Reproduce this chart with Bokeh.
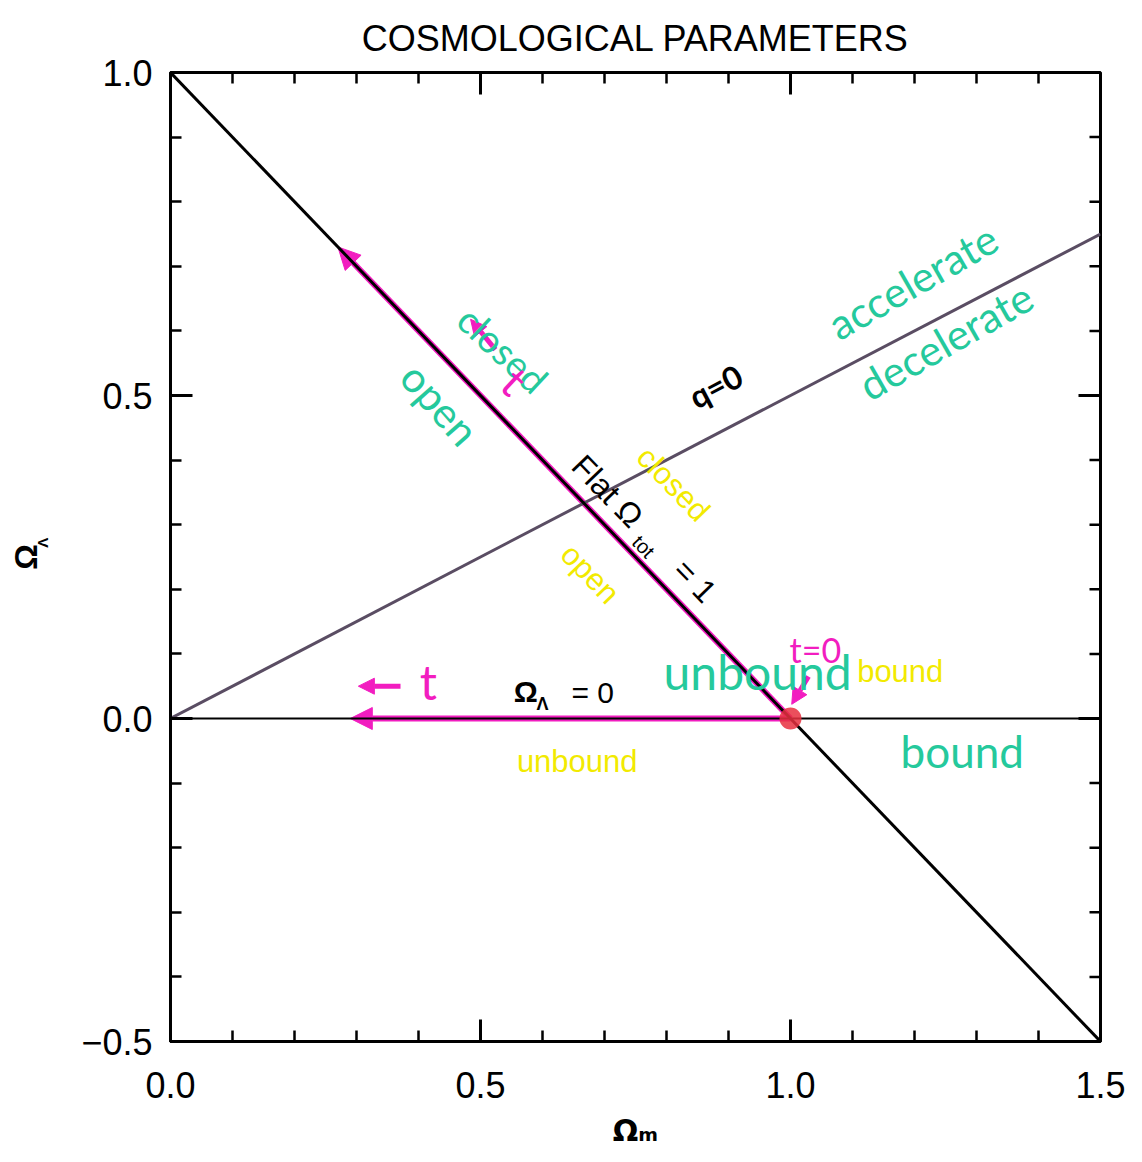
from bokeh.plotting import figure
from bokeh.layouts import row
from bokeh.models import (Range1d, FixedTicker, Label, Arrow,
                          NormalHead, ColumnDataSource)
from bokeh.embed import file_html
from bokeh.resources import INLINE

# ---------------- data ----------------
flat_x = [0.0, 1.5]          # Omega_tot = 1  (Omega_L = 1 - Omega_m)
flat_y = [1.0, -0.5]
q0_x = [0.0, 1.5]            # q = 0  (Omega_L = Omega_m / 2)
q0_y = [0.0, 0.75]
lam0_x = [0.0, 1.5]          # Omega_L = 0
lam0_y = [0.0, 0.0]

# evolution paths (from t=0 point backwards)
path_start_x = [1.0, 1.0]
path_start_y = [0.0, 0.0]
path_end_x = [0.27, 0.29]
path_end_y = [0.73, 0.0]

bigbang_x = [1.0]
bigbang_y = [0.0]

x_major = [0.0, 0.5, 1.0, 1.5]
x_labels = ["0.0", "0.5", "1.0", "1.5"]
x_minor = [0.0, 0.1, 0.2, 0.3, 0.4, 0.5, 0.6, 0.7, 0.8, 0.9, 1.0, 1.1, 1.2, 1.3, 1.4, 1.5]
y_major = [-0.5, 0.0, 0.5, 1.0]
y_labels = ["\u22120.5", "0.0", "0.5", "1.0"]
y_minor = [-0.5, -0.4, -0.3, -0.2, -0.1, 0.0, 0.1, 0.2, 0.3, 0.4, 0.5, 0.6, 0.7, 0.8, 0.9, 1.0]

X_MIN, X_MAX = 0.0, 1.5
Y_MIN, Y_MAX = -0.5, 1.0

MAGENTA = "#f21dc0"
GREEN = "#25c99c"
YELLOW = "#f2ea00"
SANS = "Liberation Sans"
HAND = "Lato"

W, H = 1142, 1162
SIDE_W = 52   # strip holding the vertical axis title

p = figure(width=W - SIDE_W, height=H, x_range=Range1d(X_MIN, X_MAX), y_range=Range1d(Y_MIN, Y_MAX),
           output_backend="svg", toolbar_location=None,
           min_border_left=170 - SIDE_W, min_border_right=42, min_border_top=72, min_border_bottom=121)
p.xgrid.visible = False
p.ygrid.visible = False
p.outline_line_color = "black"
p.outline_line_width = 3
p.background_fill_color = "white"
p.border_fill_color = "white"

p.title.text = "COSMOLOGICAL PARAMETERS"
p.title.align = "center"
p.title.text_font = SANS
p.title.text_font_size = "36px"
p.title.text_font_style = "normal"
p.title.text_color = "black"
p.title.standoff = 28


def style_axis(ax, major, minor, labels):
    ax.ticker = FixedTicker(ticks=major, minor_ticks=minor)
    ax.major_tick_in = 22
    ax.major_tick_out = 0
    ax.minor_tick_in = 11
    ax.minor_tick_out = 0
    ax.major_tick_line_width = 3
    ax.minor_tick_line_width = 2.5
    ax.axis_line_width = 3
    ax.axis_line_color = "black"
    ax.major_tick_line_color = "black"
    ax.minor_tick_line_color = "black"
    ax.major_label_overrides = dict(zip(major, labels))
    ax.major_label_text_font = SANS
    ax.major_label_text_font_size = "36px"
    ax.major_label_text_color = "black"


style_axis(p.xaxis[0], x_major, x_minor, x_labels)
p.xaxis[0].major_label_standoff = 30
p.xaxis[0].axis_label = "\u03a9\u2098"
p.xaxis[0].axis_label_text_font = "DejaVu Sans"
p.xaxis[0].axis_label_text_font_size = "30px"
p.xaxis[0].axis_label_text_font_style = "bold"
p.xaxis[0].axis_label_text_color = "black"
p.xaxis[0].axis_label_standoff = 12

style_axis(p.yaxis[0], y_major, y_minor, y_labels)
p.yaxis[0].major_label_standoff = 18

# mirrored ticks on top and right edges (half of each dash is clipped by the frame)
p.scatter(x_major, [Y_MAX] * len(x_major), marker="dash", angle=1.5708, size=44, line_width=3, line_color="black")
p.scatter(x_minor, [Y_MAX] * len(x_minor), marker="dash", angle=1.5708, size=22, line_width=2.5, line_color="black")
p.scatter([X_MAX] * len(y_major), y_major, marker="dash", size=44, line_width=3, line_color="black")
p.scatter([X_MAX] * len(y_minor), y_minor, marker="dash", size=22, line_width=2.5, line_color="black")

# ---------------- magenta evolution paths (beneath the black lines) ----------------
path_src = ColumnDataSource(dict(x0=path_start_x, y0=path_start_y, x1=path_end_x, y1=path_end_y))
p.add_layout(Arrow(x_start="x0", y_start="y0", x_end="x1", y_end="y1", source=path_src,
                   line_color=MAGENTA, line_width=6, level="underlay",
                   end=NormalHead(size=22, line_color=MAGENTA, fill_color=MAGENTA)))

# ---------------- reference lines ----------------
p.line(lam0_x, lam0_y, line_color="black", line_width=2)
p.line(q0_x, q0_y, line_color="#5a4d63", line_width=3)
p.line(flat_x, flat_y, line_color="black", line_width=3)

p.scatter(bigbang_x, bigbang_y, size=22, fill_color="#e8303f", line_color=None, fill_alpha=0.85)

# ---------------- small hand-drawn arrows ----------------
ann_arrows = ColumnDataSource(dict(x0=[0.371, 0.524, 1.029], y0=[0.05, 0.571, 0.065],
                                   x1=[0.303, 0.484, 1.002], y1=[0.05, 0.618, 0.022]))
p.add_layout(Arrow(x_start="x0", y_start="y0", x_end="x1", y_end="y1", source=ann_arrows,
                   line_color=MAGENTA, line_width=5,
                   end=NormalHead(size=16, line_color=MAGENTA, fill_color=MAGENTA)))

ROT_FLAT = -0.805
ROT_Q = 0.48


def lab(fig, x, y, text, size, color="black", font=SANS, angle=0.0, style="normal"):
    fig.add_layout(Label(x=x, y=y, text=text, angle=angle, text_align="center",
                         text_baseline="middle", text_font=font, text_font_size=size,
                         text_color=color, text_font_style=style))


# black labels
lab(p, 0.705, 0.352, "Flat \u03a9", "32px", angle=ROT_FLAT)
lab(p, 0.763, 0.266, "tot", "20px", angle=ROT_FLAT)
lab(p, 0.846, 0.213, "= 1", "32px", angle=ROT_FLAT)
lab(p, 0.879, 0.515, "q=0", "32px", angle=ROT_Q, font=HAND, style="bold")
lab(p, 0.573, 0.042, "\u03a9", "30px", style="bold")
lab(p, 0.600, 0.022, "\u039b", "18px", style="bold")
lab(p, 0.681, 0.040, "= 0", "30px")

# yellow labels
lab(p, 0.811, 0.363, "closed", "31px", color=YELLOW, angle=ROT_FLAT)
lab(p, 0.677, 0.224, "open", "31px", color=YELLOW, angle=ROT_FLAT)
lab(p, 1.177, 0.073, "bound", "31px", color=YELLOW)
lab(p, 0.656, -0.066, "unbound", "31px", color=YELLOW)

# green handwritten labels
lab(p, 0.537, 0.572, "closed", "38px", color=GREEN, font=HAND, angle=-0.75)
lab(p, 0.435, 0.487, "open", "42px", color=GREEN, font=HAND, angle=-0.85)
lab(p, 1.197, 0.677, "accelerate", "42px", color=GREEN, font=HAND, angle=0.52)
lab(p, 1.250, 0.585, "decelerate", "42px", color=GREEN, font=HAND, angle=0.52)
lab(p, 0.947, 0.073, "unbound", "48px", color=GREEN, font=HAND)
lab(p, 1.277, -0.050, "bound", "44px", color=GREEN, font=HAND)

# magenta labels
lab(p, 1.040, 0.107, "t=0", "34px", color=MAGENTA, font=HAND)
lab(p, 0.416, 0.058, "t", "48px", color=MAGENTA, font=HAND)
lab(p, 0.556, 0.523, "t", "44px", color=MAGENTA, font=HAND, angle=-0.75)

# ---------------- side strip with the vertical axis title  Omega_Lambda ----------------
side = figure(width=SIDE_W, height=H, x_range=Range1d(0, SIDE_W), y_range=Range1d(0, H),
              output_backend="svg", toolbar_location=None, min_border=0, title=None)
side.axis.visible = False
side.grid.visible = False
side.outline_line_color = None
side.background_fill_color = "white"
side.border_fill_color = "white"
lab(side, 25, H - 581, "\u03a9", "32px", angle=1.5708, style="bold")
lab(side, 42, H - 564, "\u039b", "15px", angle=1.5708, style="bold")

layout = row(side, p, spacing=0)
open("out.html", "w").write(file_html(layout, INLINE))
